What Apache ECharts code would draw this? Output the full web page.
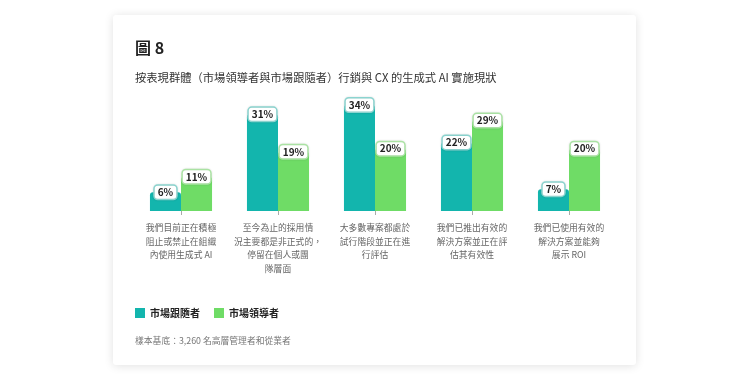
<!DOCTYPE html>
<html><head><meta charset="utf-8">
<script src="https://cdn.jsdelivr.net/npm/echarts@6/dist/echarts.min.js"></script>
<style>html,body{margin:0;padding:0;background:#fff}#c{width:750px;height:381px}</style>
</head><body><div id="c"></div>
<script>
const categories = [
  '我們目前正在積極\n阻止或禁止在組織\n內使用生成式 AI',
  '至今為止的採用情\n況主要都是非正式的，\n停留在個人或團\n隊層面',
  '大多數專案都處於\n試行階段並正在進\n行評估',
  '我們已推出有效的\n解決方案並正在評\n估其有效性',
  '我們已使用有效的\n解決方案並能夠\n展示 ROI'
];
const followers = [6, 31, 34, 22, 7];
const leaders = [11, 19, 20, 29, 20];
const seriesNames = ['市場跟隨者', '市場領導者'];
const titleText = '圖 8';
const subtitleText = '按表現群體（市場領導者與市場跟隨者）行銷與 CX 的生成式 AI 實施現狀';
const footnote = '樣本基底：3,260 名高層管理者和從業者';

const TEAL = '#13b5ad', GREEN = '#6fdc66';
const FONT = '"Noto Sans CJK TC","Noto Sans",sans-serif';
function lbl(border){
  return {show:true, position:['50%',0], align:'center', verticalAlign:'middle',
    formatter:'{c}%', color:'#222', fontWeight:'bold', fontSize:10, fontFamily:FONT,
    backgroundColor:'#fff', borderColor:border, borderWidth:1.5, borderRadius:3,
    padding:[2,3,1,3], shadowColor:'rgba(0,0,0,0.15)', shadowBlur:2};
}
const chart = echarts.init(document.getElementById('c'));
chart.setOption({
  animation:false,
  backgroundColor:'#fff',
  graphic:[{type:'rect', z:-10, shape:{x:113,y:15,width:523,height:350,r:3},
    style:{fill:'#fff', shadowColor:'rgba(0,0,0,0.12)', shadowBlur:10, shadowOffsetY:1}}],
  title:[
    {text:titleText, left:135, top:40, padding:0, textStyle:{fontSize:16, fontWeight:'bold', color:'#222', fontFamily:FONT}},
    {text:subtitleText, left:135, top:72, padding:0, textStyle:{fontSize:11.3, fontWeight:'normal', color:'#333', fontFamily:FONT}},
    {text:footnote, left:135, top:336, padding:0, textStyle:{fontSize:8.8, fontWeight:'normal', color:'#777', fontFamily:FONT}}
  ],
  legend:{left:135, top:308, padding:0, itemWidth:10, itemHeight:10, itemGap:14, icon:'rect',
    textStyle:{fontSize:10, fontWeight:'bold', color:'#222', fontFamily:FONT}, data:seriesNames},
  grid:{left:132.5, width:485, top:105, height:106},
  xAxis:{type:'category', data:categories,
    axisLine:{show:false},
    axisTick:{show:true, alignWithLabel:true, length:4, lineStyle:{color:'#aaa'}},
    axisLabel:{interval:0, margin:10, fontSize:8.8, lineHeight:13.5, color:'#666', fontFamily:FONT}},
  yAxis:{type:'value', min:0, max:34, show:false, splitLine:{show:false}},
  series:[
    {name:seriesNames[0], type:'bar', data:followers, barGap:'0%', barCategoryGap:'36%',
      itemStyle:{color:TEAL, borderRadius:[3,3,0,0]}, label:lbl('#8fdad5')},
    {name:seriesNames[1], type:'bar', data:leaders,
      itemStyle:{color:GREEN, borderRadius:[3,3,0,0]}, label:lbl('#b0eaa9')}
  ]
});
</script></body></html>
